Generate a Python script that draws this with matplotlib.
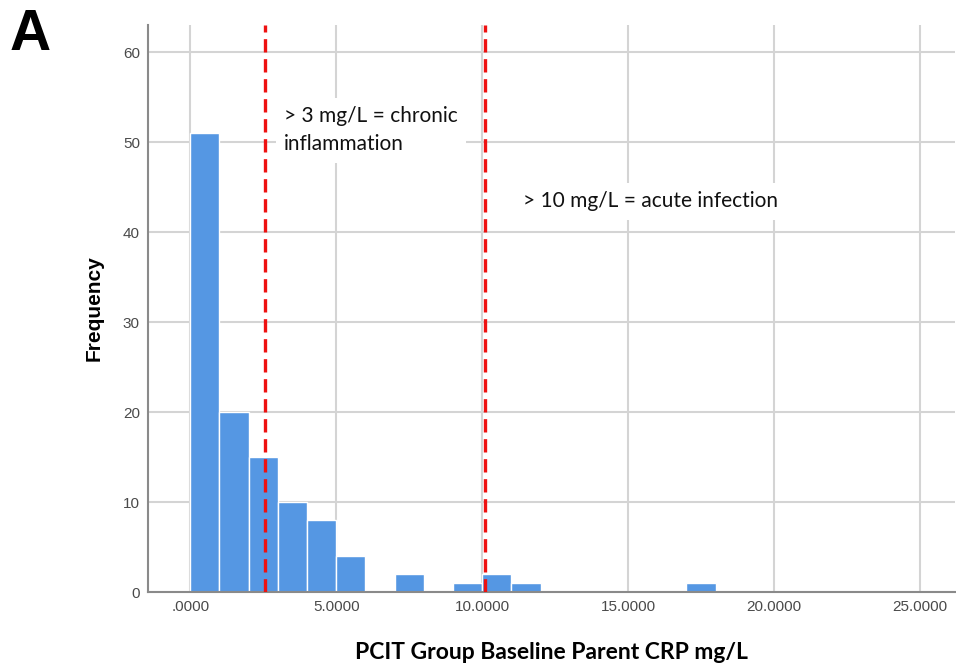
import matplotlib
matplotlib.use("Agg")
import matplotlib.pyplot as plt

# Histogram data (bin width 1 mg/L)
bin_lefts = [0, 1, 2, 3, 4, 5, 6, 7, 8, 9, 10, 11, 12, 13, 14, 15, 16, 17]
counts = [51, 20, 15, 10, 8, 4, 0, 2, 0, 1, 2, 1, 0, 0, 0, 0, 0, 1]
x_ticks = [0, 5, 10, 15, 20, 25]
x_tick_labels = [".0000", "5.0000", "10.0000", "15.0000", "20.0000", "25.0000"]
y_ticks = [0, 10, 20, 30, 40, 50, 60]
ref_lines = [2.57, 10.1]

fig = plt.figure(figsize=(9.56, 6.67), dpi=100)
ax = fig.add_axes([0.155, 0.1124, 0.844, 0.8501])

ax.bar(bin_lefts, counts, width=1, align="edge", color="#5597e3",
       edgecolor="white", linewidth=1.0, zorder=2)

ax.set_xlim(-1.44, 26.2)
ax.set_ylim(0, 63)
ax.set_xticks(x_ticks)
ax.set_xticklabels(x_tick_labels)
ax.set_yticks(y_ticks)
ax.tick_params(length=0, labelsize=11, labelcolor="#4a4a4a", pad=6,
               labelfontfamily="Liberation Sans")
ax.grid(True, color="#d4d4d4", linewidth=1.5, zorder=0)
ax.set_axisbelow(True)
for s in ["top", "right"]:
    ax.spines[s].set_visible(False)
for s in ["left", "bottom"]:
    ax.spines[s].set_color("#8a8a8a")
    ax.spines[s].set_linewidth(1.5)

for xv in ref_lines:
    ax.axvline(xv, color="#ee1111", linewidth=2.4, dashes=(4, 2), zorder=4)

ax.text(3.22, 51.3, "> 3 mg/L = chronic\ninflammation", fontsize=15,
        family="Lato", color="#111111", va="center", ha="left",
        linespacing=1.5, zorder=3,
        bbox=dict(facecolor="white", edgecolor="none", pad=6))
ax.text(11.4, 43.4, "> 10 mg/L = acute infection", fontsize=15,
        family="Lato", color="#111111", va="center", ha="left", zorder=3,
        bbox=dict(facecolor="white", edgecolor="none", pad=6))

ax.set_ylabel("Frequency", fontsize=15, fontweight="bold",
              family="Liberation Sans", labelpad=14)
ax.set_xlabel("PCIT Group Baseline Parent CRP mg/L", fontsize=16.5,
              fontweight="bold", family="Lato", labelpad=20)

fig.text(0.01, 0.988, "A", fontsize=41, fontweight="bold",
         family="Liberation Sans", va="top", ha="left")

fig.savefig("out.png", dpi=100)
